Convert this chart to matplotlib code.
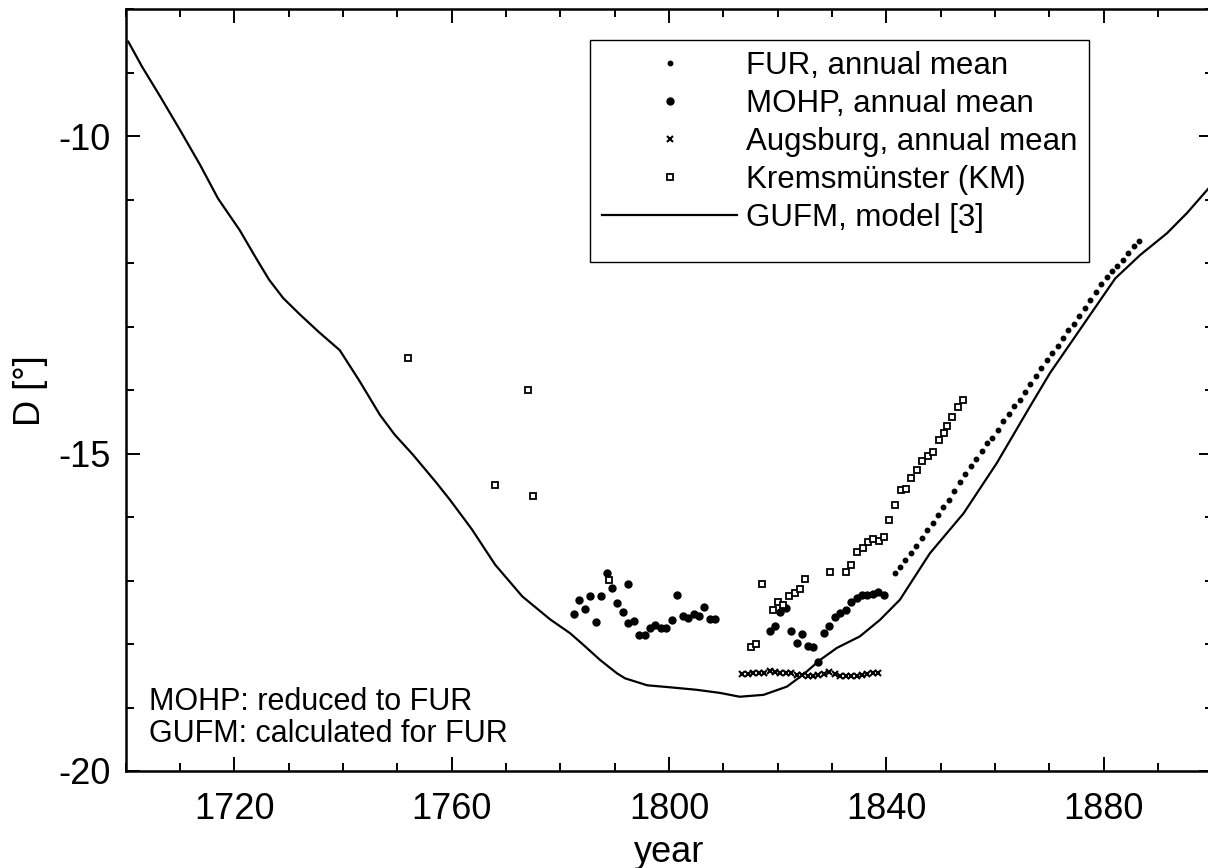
import matplotlib.pyplot as plt
from matplotlib.patches import Rectangle
from matplotlib.ticker import MultipleLocator

plt.rcParams['font.family'] = ['Liberation Sans', 'DejaVu Sans']
plt.rcParams['axes.unicode_minus'] = False

# GUFM model, declination at FUR
gufm_year = [1700.5, 1703.0, 1706.2, 1710.0, 1713.7, 1717.0, 1721.0, 1724.0, 1726.4,
             1729.0, 1732.1, 1735.5, 1739.4, 1743.0, 1746.8, 1749.5, 1752.9, 1757.2,
             1759.7, 1763.7, 1768.0, 1773.0, 1778.1, 1781.8, 1784.2, 1787.3, 1790.4,
             1791.9, 1796.0, 1800.0, 1805.0, 1809.4, 1813.0, 1817.4, 1821.7, 1824.7,
             1827.8, 1830.9, 1835.1, 1838.8, 1842.5, 1844.0, 1848.0, 1854.2, 1860.3,
             1866.4, 1870.1, 1882.1, 1886.7, 1891.6, 1895.3, 1900.0]
gufm_d = [-8.51, -8.90, -9.35, -9.90, -10.45, -10.98, -11.48, -11.92, -12.26,
          -12.55, -12.81, -13.08, -13.37, -13.85, -14.39, -14.70, -15.02, -15.46,
          -15.73, -16.19, -16.75, -17.25, -17.61, -17.83, -18.01, -18.25, -18.46,
          -18.54, -18.65, -18.68, -18.72, -18.77, -18.83, -18.80, -18.67, -18.48,
          -18.25, -18.06, -17.88, -17.62, -17.30, -17.10, -16.57, -15.94, -15.15,
          -14.26, -13.73, -12.24, -11.87, -11.53, -11.21, -10.75]

# FUR annual means
fur_year = [1841.5, 1842.5, 1843.5, 1844.5, 1845.5, 1846.5, 1847.5, 1848.5, 1849.5,
            1850.5, 1851.5, 1852.5, 1853.5, 1854.5, 1855.5, 1856.5, 1857.5, 1858.5,
            1859.5, 1860.5, 1861.5, 1862.5, 1863.5, 1864.5, 1865.5, 1866.5, 1867.5,
            1868.5, 1869.5, 1870.5, 1871.5, 1872.5, 1873.5, 1874.5, 1875.5, 1876.5,
            1877.5, 1878.5, 1879.5, 1880.5, 1881.5, 1882.5, 1883.5, 1884.5, 1885.5,
            1886.5]
fur_d = [-16.88, -16.79, -16.67, -16.57, -16.45, -16.33, -16.21, -16.09, -15.97,
         -15.84, -15.73, -15.59, -15.45, -15.32, -15.19, -15.09, -14.96, -14.83,
         -14.76, -14.63, -14.49, -14.37, -14.25, -14.15, -14.03, -13.91, -13.77,
         -13.65, -13.53, -13.42, -13.30, -13.18, -13.06, -12.95, -12.83, -12.70,
         -12.58, -12.45, -12.33, -12.22, -12.13, -12.05, -11.95, -11.84, -11.73,
         -11.65]

# MOHP annual means (reduced to FUR)
mohp_year = [1782.5, 1783.5, 1784.5, 1785.5, 1786.5, 1787.5, 1788.5, 1789.5, 1790.5,
             1791.5, 1792.5, 1792.5, 1793.5, 1794.5, 1795.5, 1796.5, 1797.5, 1798.5,
             1799.5, 1800.5, 1801.5, 1802.5, 1803.5, 1804.5, 1805.5, 1806.5, 1807.5,
             1808.5, 1818.5, 1819.5, 1820.5, 1821.5, 1822.5, 1823.5, 1824.5, 1825.5,
             1826.5, 1827.5, 1828.5, 1829.5, 1830.5, 1831.5, 1832.5, 1833.5, 1834.5,
             1835.5, 1836.5, 1837.5, 1838.5, 1839.5]
mohp_d = [-17.52, -17.30, -17.45, -17.25, -17.66, -17.25, -16.88, -17.11, -17.36,
          -17.50, -17.06, -17.67, -17.64, -17.86, -17.86, -17.74, -17.70, -17.75,
          -17.75, -17.62, -17.22, -17.56, -17.59, -17.52, -17.56, -17.41, -17.61,
          -17.61, -17.79, -17.71, -17.50, -17.43, -17.79, -17.98, -17.84, -18.03,
          -18.04, -18.29, -17.83, -17.71, -17.57, -17.51, -17.47, -17.34, -17.28,
          -17.23, -17.23, -17.21, -17.18, -17.23]

# Augsburg annual means
aug_year = [1813.5, 1814.5, 1815.5, 1816.5, 1817.5, 1818.5, 1819.5, 1820.5, 1821.5,
            1822.5, 1823.5, 1824.5, 1825.5, 1826.5, 1827.5, 1828.5, 1829.5, 1830.5,
            1831.5, 1832.5, 1833.5, 1834.5, 1835.5, 1836.5, 1837.5, 1838.5]
aug_d = [-18.47, -18.47, -18.46, -18.46, -18.45, -18.42, -18.44, -18.45, -18.45,
         -18.46, -18.48, -18.49, -18.50, -18.50, -18.49, -18.47, -18.44, -18.47,
         -18.50, -18.50, -18.51, -18.50, -18.48, -18.47, -18.46, -18.46]

# Kremsmuenster
km_year = [1752.0, 1768.0, 1774.0, 1775.0, 1789.0, 1815.0, 1816.0, 1817.1, 1819.1,
           1820.1, 1821.0, 1822.1, 1823.1, 1824.1, 1825.1, 1829.6, 1832.6, 1833.5,
           1834.5, 1835.6, 1836.6, 1837.5, 1838.6, 1839.6, 1840.5, 1841.6, 1842.6,
           1843.6, 1844.6, 1845.6, 1846.6, 1847.6, 1848.6, 1849.6, 1850.6, 1851.1,
           1852.1, 1853.1, 1854.1]
km_d = [-13.50, -15.49, -14.00, -15.66, -16.99, -18.05, -18.00, -17.06, -17.47,
        -17.34, -17.38, -17.24, -17.19, -17.14, -16.98, -16.86, -16.86, -16.75,
        -16.55, -16.49, -16.40, -16.34, -16.38, -16.31, -16.05, -15.81, -15.57,
        -15.56, -15.39, -15.26, -15.11, -15.03, -14.97, -14.78, -14.67, -14.57,
        -14.42, -14.27, -14.15]

W, H = 1208, 868
fig = plt.figure(figsize=(W / 100, H / 100), dpi=100)
ax = fig.add_axes([125.6 / W, (H - 771) / H, (1212.5 - 125.6) / W, (771 - 9.3) / H])

ax.plot(fur_year, fur_d, linestyle='none', marker='o', ms=3.2, color='black',
        label='FUR, annual mean')
ax.plot(mohp_year, mohp_d, linestyle='none', marker='o', ms=5.0, color='black',
        label='MOHP, annual mean')
ax.plot(aug_year, aug_d, linestyle='none', marker='x', ms=4, mew=1.5, color='black',
        label='Augsburg, annual mean')
ax.plot(km_year, km_d, linestyle='none', marker='s', ms=4.2, mew=1.3, mfc='white',
        mec='black', label='Kremsmünster (KM)')
ax.plot(gufm_year, gufm_d, color='black', lw=1.6, label='GUFM, model [3]')

ax.set_xlim(1700, 1900)
ax.set_ylim(-20, -8)
ax.xaxis.set_major_locator(MultipleLocator(40))
ax.xaxis.set_minor_locator(MultipleLocator(10))
ax.yaxis.set_major_locator(MultipleLocator(5))
ax.yaxis.set_minor_locator(MultipleLocator(1))
ax.tick_params(which='both', direction='in', top=True, right=True, width=1.4,
               labelsize=26)
ax.tick_params(axis='x', which='both', pad=15)
ax.tick_params(axis='y', which='both', pad=11)
ax.tick_params(which='major', length=10)
ax.tick_params(which='minor', length=6)
for s in ax.spines.values():
    s.set_linewidth(1.8)

ax.set_xlabel('year', fontsize=26, labelpad=6)
ax.set_ylabel('D [°]', fontsize=26, labelpad=7)

fig.text(149 / W, 1 - 710 / H, 'MOHP: reduced to FUR', fontsize=22, va='baseline')
fig.text(149 / W, 1 - 741.7 / H, 'GUFM: calculated for FUR', fontsize=22, va='baseline')

leg = ax.legend(loc='upper left', bbox_to_anchor=(593 / W, 1 - 42 / H),
                bbox_transform=fig.transFigure, fontsize=22.5, frameon=False,
                numpoints=1, handlelength=4.3, handletextpad=0.3,
                labelspacing=0.25, borderpad=0.3, borderaxespad=0)
fig.patches.append(Rectangle((590 / W, 1 - 262 / H), (1089 - 590) / W, (262 - 40) / H,
                             transform=fig.transFigure, fill=False,
                             edgecolor='black', lw=1.0))

fig.savefig('out.png', dpi=100)
